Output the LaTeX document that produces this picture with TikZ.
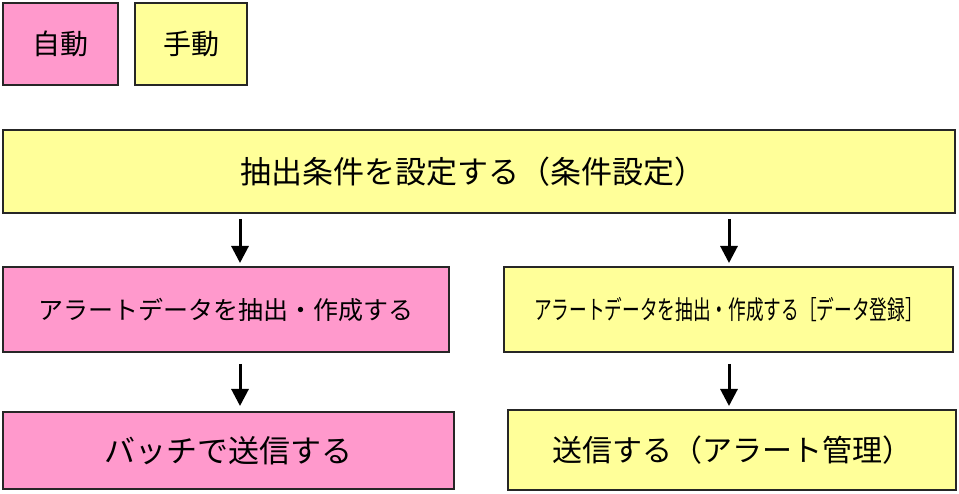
\documentclass[tikz,border=0pt]{standalone}
\usepackage{fontspec}
\setmainfont{Noto Sans CJK JP}
\usetikzlibrary{arrows.meta}
\definecolor{pinkfill}{HTML}{FF99CC}
\definecolor{yellowfill}{HTML}{FFFF99}
\tikzset{
  box/.style={draw=black!85, line width=2pt, rectangle, inner sep=0pt, align=center},
  autobox/.style={box, fill=pinkfill},
  manbox/.style={box, fill=yellowfill},
  arr/.style={line width=3pt, -{Triangle[width=17pt,length=17pt]}}
}
\begin{document}
\begin{tikzpicture}[x=1pt,y=-1pt]
\useasboundingbox (0,0) rectangle (959,494);
\node[autobox, minimum width=115pt, minimum height=82pt, font=\fontsize{28}{30}\selectfont] (auto) at (60.5,44) {自動};
\node[manbox, minimum width=112pt, minimum height=82pt, font=\fontsize{28}{30}\selectfont] (man) at (191,44) {手動};
\node[manbox, minimum width=952pt, minimum height=83pt, font=\fontsize{31}{34}\selectfont] (top) at (479,171.5) {抽出条件を設定する（条件設定）\hspace*{12pt}};
\node[autobox, minimum width=446pt, minimum height=85pt, font=\fontsize{25}{28}\selectfont] (ml) at (226,309.5) {アラートデータを抽出・作成する};
\node[manbox, minimum width=449pt, minimum height=85pt, font=\fontsize{26}{28}\selectfont] (mr) at (728.5,309.5) {\scalebox{0.68}[1]{アラートデータを抽出・作成する［データ登録］}};
\node[autobox, minimum width=451pt, minimum height=77pt, font=\fontsize{31}{34}\selectfont] (bl) at (228.5,450.5) {バッチで送信する};
\node[manbox, minimum width=448pt, minimum height=80pt, font=\fontsize{30}{34}\selectfont] (br) at (732,450) {送信する（アラート管理）};
\coordinate (cl) at (240,0);
\coordinate (cr) at (729,0);
\draw[arr] ([yshift=-5pt]top.south -| cl) -- ([yshift=3pt]ml.north -| cl);
\draw[arr] ([yshift=-5pt]top.south -| cr) -- ([yshift=3pt]mr.north -| cr);
\draw[arr] ([yshift=-11pt]ml.south -| cl) -- ([yshift=5pt]bl.north -| cl);
\draw[arr] ([yshift=-11pt]mr.south -| cr) -- ([yshift=3pt]br.north -| cr);
\end{tikzpicture}
\end{document}
